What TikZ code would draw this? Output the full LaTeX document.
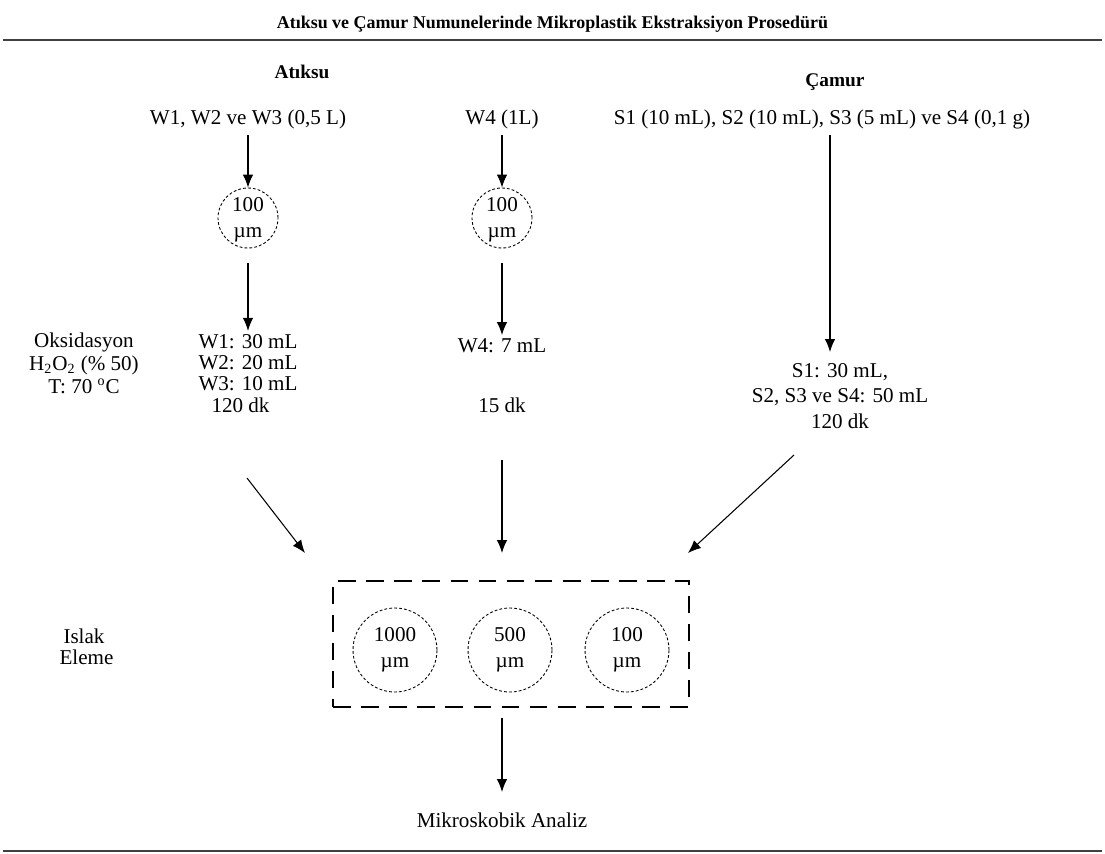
\documentclass[tikz,border=0pt]{standalone}
\usepackage{fontspec}
\setmainfont{Liberation Serif}
\usetikzlibrary{arrows.meta}
\definecolor{rulecolor}{HTML}{404040}
\definecolor{linecolor}{HTML}{000000}
\tikzset{
  ptext/.style={font=\fontsize{12}{12}\selectfont, align=center, inner sep=2pt},
  ptextwide/.style={font=\fontsize{12}{14.4}\selectfont, align=center, inner sep=2pt},
  phead/.style={font=\fontsize{11}{13}\selectfont\bfseries},
  ptitle/.style={font=\fontsize{10.2}{12}\selectfont\bfseries},
  sieve/.style={circle, draw=linecolor, line width=0.5pt, dash pattern=on 1.6pt off 1.2pt, minimum size=1.2cm, inner sep=0pt, align=center, font=\fontsize{12}{15}\selectfont},
  bigsieve/.style={sieve, minimum size=1.68cm, font=\fontsize{12}{15}\selectfont},
  sievebox/.style={draw=linecolor, line width=0.8pt, dash pattern=on 10pt off 6pt, minimum width=7.12cm, minimum height=2.52cm},
  parrow/.style={draw=linecolor, line width=0.6pt, -{Latex[length=2.6mm,width=2.1mm]}},
  prule/.style={draw=rulecolor, line width=1.1pt}
}
\begin{document}
\begin{tikzpicture}[x=1cm,y=1cm]
  \useasboundingbox (0,0) rectangle (22.1,-17.08);

  % title and rules
  \node[ptitle] (title) at (11.05,-0.48) {Atıksu ve Çamur Numunelerinde Mikroplastik Ekstraksiyon Prosedürü};
  \coordinate (rtl) at (0.06,-0.80);
  \coordinate (rtr) at (22.04,-0.80);
  \coordinate (rbl) at (0.06,-17.02);
  \coordinate (rbr) at (22.04,-17.02);
  \draw[prule] (rtl) -- (rtr);
  \draw[prule] (rbl) -- (rbr);

  % column heads
  \node[phead] (hw) at (6.04,-1.44) {Atıksu};
  \node[phead] (hs) at (16.7,-1.64) {Çamur};

  % samples
  \node[ptext] (wsrc) at (4.96,-2.38) {W1, W2 ve W3 (0,5 L)};
  \node[ptext] (w4src) at (10.04,-2.38) {W4 (1L)};
  \node[ptext] (ssrc) at (16.44,-2.38) {S1 (10 mL), S2 (10 mL), S3 (5 mL) ve S4 (0,1 g)};

  % pre-sieves
  \node[sieve] (wfilt) at (4.96,-4.36) {\\[-0.9ex]100\\µm};
  \node[sieve] (w4filt) at (10.04,-4.36) {\\[-0.9ex]100\\µm};

  % oxidation
  \node[ptext, font=\fontsize{12}{13}\selectfont] (oks) at (1.68,-7.26) {Oksidasyon\\H\textsubscript{2}O\textsubscript{2} (\% 50)\\T: 70 \textsuperscript{o}C};
  \node[ptext] (wvol) at (4.96,-7.47) {W1: 30 mL\\W2: 20 mL\\W3: 10 mL\\\hspace*{-0.3cm}120 dk};
  \node[ptext] (w4vol) at (10.04,-6.92) {W4: 7 mL};
  \node[ptext] (w4time) at (10.04,-8.10) {15 dk};
  \node[ptextwide] (svol) at (16.8,-7.92) {S1: 30 mL,\\S2, S3 ve S4: 50 mL\\120 dk};

  \draw[parrow] (wsrc.south) ++(0,-0.05) coordinate (wa) -- (wfilt.north);
  \draw[parrow] (w4src.south) ++(0,-0.05) coordinate (w4a) -- (w4filt.north);
  \draw[parrow] (wfilt.south) ++(0,-0.3) coordinate (wb) -- (wvol.north);
  \draw[parrow] (w4filt.south) ++(0,-0.3) coordinate (w4b) -- (w4vol.north);
  \coordinate (sa) at (16.6,-2.70);
  \coordinate (sb) at (16.6,-7.04);
  \draw[parrow] (sa) -- (sb);

  % wet sieving
  \node[sievebox] (box) at (10.22,-12.88) {};
  \node[bigsieve] (s1000) at (7.90,-13.0) {1000\\µm};
  \node[bigsieve] (s500) at (10.20,-13.0) {500\\µm};
  \node[bigsieve] (s100) at (12.54,-13.0) {100\\µm};
  \node[ptext] (islak) at (1.68,-12.94) {Islak\\\hspace*{0.1cm}Eleme};

  \coordinate (dl0) at (4.94,-9.56);
  \coordinate (dl1) at (6.10,-11.06);
  \coordinate (dm0) at (10.04,-9.20);
  \coordinate (dm1) at (10.04,-11.06);
  \coordinate (dr0) at (15.88,-9.10);
  \coordinate (dr1) at (13.76,-11.06);
  \draw[parrow] (dl0) -- (dl1);
  \draw[parrow] (dm0) -- (dm1);
  \draw[parrow] (dr0) -- (dr1);

  % analysis
  \node[ptext] (mikro) at (10.04,-16.40) {Mikroskobik Analiz};
  \coordinate (ba) at (10.04,-14.36);
  \coordinate (bb) at (10.04,-15.84);
  \draw[parrow] (ba) -- (bb);
\end{tikzpicture}
\end{document}
